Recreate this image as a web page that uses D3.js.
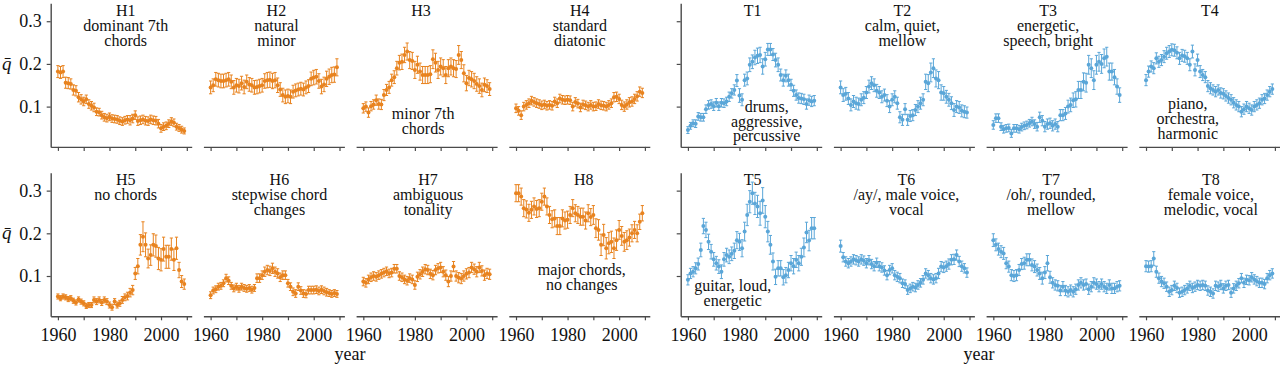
<!doctype html>
<html>
<head>
	<meta charset="utf-8">
	<script src="https://d3js.org/d3.v7.min.js"></script>
	<style>
		body { margin: 0; background-color: white; }
		text { font-family: 'Liberation Serif', 'Times New Roman', serif; fill: #111; }
	</style>
</head>
<body>
	<div id="my_dataviz"></div>
	<script>

// years on the x axis
var years = [1960,1961,1962,1963,1964,1965,1966,1967,1968,1969,
             1970,1971,1972,1973,1974,1975,1976,1977,1978,1979,
             1980,1981,1982,1983,1984,1985,1986,1987,1988,1989,
             1990,1991,1992,1993,1994,1995,1996,1997,1998,1999,
             2000,2001,2002,2003,2004,2005,2006,2007,2008,2009];
var xTicks = [1960, 1970, 1980, 1990, 2000, 2010];
var xLabels = [1960, 1980, 2000];
var yTicks = [0.1, 0.2, 0.3];

// panel titles and notes
var hTitles = [["H1","dominant 7th","chords"], ["H2","natural","minor"], ["H3"], ["H4","standard","diatonic"],
               ["H5","no chords"], ["H6","stepwise chord","changes"], ["H7","ambiguous","tonality"], ["H8"]];
var tTitles = [["T1"], ["T2","calm, quiet,","mellow"], ["T3","energetic,","speech, bright"], ["T4"],
               ["T5"], ["T6","/ay/, male voice,","vocal"], ["T7","/oh/, rounded,","mellow"], ["T8","female voice,","melodic, vocal"]];
var hNotes = [[], [], ["minor 7th","chords"], [], [], [], [], ["major chords,","no changes"]];
var tNotes = [["drums,","aggressive,","percussive"], [], [], ["piano,","orchestra,","harmonic"],
              ["guitar, loud,","energetic"], [], [], []];

// mean q values (x 1000), one per year
var H1 = [182,180,182,156,155,153,139,137,122,117, 112,117,106,102,98,88,87,80,75,73, 76,72,71,70,67,65,68,70,68,72, 80,66,68,70,67,66,70,68,67,60, 49,53,55,60,65,62,53,50,46,43];
var H2 = [145,150,164,162,160,160,162,164,158,145, 150,148,155,146,158,152,150,145,146,148, 150,160,162,163,160,162,150,140,127,123, 125,123,135,138,140,142,140,145,148,165, 168,170,160,147,152,165,170,174,175,192];
var H3 = [96,100,86,101,105,115,106,105,127,139, 145,162,169,190,203,205,221,229,209,207, 186,198,182,174,174,174,176,211,203,186, 194,190,174,190,194,190,188,221,209,178, 155,167,164,160,153,148,139,151,148,141];
var H4 = [96,90,80,100,104,108,114,111,108,106, 103,105,102,104,102,112,108,119,116,115, 116,115,100,111,107,98,105,103,100,104, 100,101,106,103,102,100,104,108,122,123, 118,104,100,105,110,112,118,124,135,132];
var H5 = [52,48,52,50,46,48,42,38,45,40, 36,30,32,32,44,40,44,38,44,40, 32,27,40,32,36,44,50,53,61,67, 106,123,173,192,173,141,149,173,170,141, 138,163,145,145,163,138,165,114,87,81];
var H6 = [55,66,69,75,77,83,95,89,77,71, 75,70,75,72,70,72,68,72,95,95, 102,110,114,112,118,110,106,97,102,102, 83,75,63,59,75,66,59,58,67,67, 67,68,65,68,65,62,60,58,60,58];
var H7 = [87,84,92,97,100,98,102,105,108,111, 106,108,117,117,100,97,92,89,95,92, 79,98,104,110,116,114,105,102,114,118, 120,110,102,87,100,122,100,96,94,100, 105,108,120,116,110,120,112,102,106,104];
var H8 = [294,294,286,259,256,248,255,263,257,259, 274,286,263,243,233,235,217,217,235,230, 232,243,259,247,243,239,239,230,247,238, 243,212,208,173,196,165,177,180,165,184, 208,194,180,184,190,200,208,200,227,247];
var T1 = [45,55,61,60,77,75,75,94,104,106, 101,109,101,109,108,112,123,131,139,161, 126,116,162,166,198,205,215,219,221,194, 211,234,234,222,209,198,174,162,172,162, 151,137,127,120,119,117,106,115,112,114];
var T2 = [145,127,130,119,104,112,108,106,116,121, 133,147,155,150,137,133,123,127,114,100, 116,123,108,75,69,94,69,78,80,92, 100,108,116,158,155,180,190,166,162,133, 131,123,116,108,92,100,98,90,88,86];
var T3 = [57,73,73,53,47,49,50,37,49,49, 47,52,55,57,61,65,59,53,75,67, 53,59,61,55,59,53,80,80,84,100, 104,115,117,139,139,158,156,198,190,162, 198,205,200,213,217,182,182,169,147,127];
var T4 = [162,182,194,190,213,205,209,217,225,229, 233,232,226,213,220,218,213,198,229,186, 209,182,174,169,148,143,139,135,139,132, 130,125,120,116,109,104,100,88,94,100, 96,92,100,104,108,116,119,127,135,141];
var T5 = [91,106,110,118,128,161,217,208,180,157, 139,130,122,110,139,149,145,152,159,184, 180,165,204,243,274,294,270,263,247,277, 239,204,173,134,98,118,118,97,102,114, 130,123,138,130,145,167,202,183,212,212];
var T6 = [170,144,134,130,134,139,137,134,139,136, 130,137,128,123,131,123,120,113,102,114, 118,102,98,95,83,81,67,71,75,73, 79,84,91,106,102,95,92,95,106,122, 120,123,128,138,139,149,134,123,118,108];
var T7 = [184,173,163,157,153,130,122,102,100,102, 114,128,130,138,138,126,122,114,106,95, 108,130,97,84,79,77,66,75,66,63, 67,63,69,79,84,79,81,69,75,84, 81,75,81,75,71,79,71,71,75,77];
var T8 = [123,122,123,141,110,95,87,83,75,63, 67,77,72,61,63,67,71,77,72,75, 79,77,79,77,66,63,59,77,75,79, 71,77,79,61,71,77,83,95,84,91, 90,97,92,88,84,84,81,95,102,106];

// half-width of the error bars (x 1000)
var H1err = [14,14,14,13,13,12,12,12,11,11, 10,10,10,10,10,9,9,9,9,9, 9,9,9,9,9,9,9,9,11,10, 10,10,10,10,10,10,10,10,10,10, 9,9,9,9,9,9,8,8,8,7];
var H2err = [15,15,16,16,16,16,16,16,16,16, 16,16,16,16,16,16,16,16,16,16, 16,17,18,18,18,18,17,16,16,16, 16,16,15,15,15,15,15,15,15,16, 17,17,17,17,17,18,18,18,18,20];
var H3err = [11,11,11,11,11,12,12,12,13,13, 14,14,15,16,17,18,18,20,20,20, 20,20,20,20,20,20,20,22,22,20, 20,20,20,20,20,20,20,22,20,20, 18,18,18,18,17,17,16,16,15,15];
var H4err = [10,10,10,10,10,10,10,10,10,10, 10,10,10,10,10,10,10,10,10,10, 10,10,10,10,10,10,10,10,10,10, 10,10,10,10,10,10,10,10,11,11, 11,11,11,11,11,11,11,11,11,11];
var H5err = [6,6,6,6,6,6,6,6,6,6, 6,6,6,6,7,7,7,7,7,7, 7,7,7,7,7,8,8,9,10,11, 14,18,24,35,28,22,24,26,26,26, 26,28,27,27,26,25,26,18,14,12];
var H6err = [8,8,8,8,8,8,9,9,8,8, 8,8,8,8,8,8,8,8,10,10, 10,11,11,11,12,11,11,10,10,10, 9,9,9,9,9,9,9,9,9,9, 9,9,9,9,9,9,8,8,8,8];
var H7err = [10,10,10,10,10,10,10,10,10,10, 10,10,10,10,10,10,10,10,10,10, 10,11,11,11,11,11,11,11,11,11, 12,12,12,12,12,12,12,12,12,12, 12,12,12,12,12,12,12,12,12,12];
var H8err = [20,20,20,20,20,20,20,20,20,20, 20,20,20,20,20,20,20,20,20,20, 20,20,20,20,20,20,20,20,20,20, 22,22,24,25,25,25,25,25,24,24, 22,22,22,22,20,20,20,20,18,18];
var T1err = [8,8,8,9,9,9,9,10,10,10, 10,10,10,10,10,10,11,11,12,14, 16,14,14,15,16,16,17,18,18,18, 16,14,14,14,16,16,14,14,14,14, 13,13,12,12,12,12,12,12,12,12];
var T2err = [15,15,15,14,14,14,14,14,14,14, 14,15,15,15,15,14,14,14,14,14, 14,14,14,13,13,13,13,13,13,13, 14,14,14,18,20,22,22,20,20,18, 16,15,15,15,15,14,14,14,14,13];
var T3err = [10,10,10,9,9,9,9,9,9,9, 9,9,9,9,9,10,10,10,12,12, 12,12,12,12,12,12,13,13,14,15, 16,17,18,20,20,21,22,22,22,22, 22,22,22,22,22,20,20,18,18,17];
var T4err = [13,13,13,13,13,13,13,14,14,14, 14,14,14,14,14,14,14,14,15,14, 14,14,13,13,13,13,12,12,12,12, 12,12,12,12,12,12,12,12,12,12, 12,12,12,12,12,12,12,12,12,12];
var T5err = [12,12,12,13,14,16,18,18,18,17, 16,16,16,16,16,16,16,16,18,20, 20,20,22,25,26,26,26,26,28,30, 26,24,22,20,18,18,18,18,18,18, 18,18,18,18,20,22,24,24,25,25];
var T6err = [14,11,11,11,11,11,11,11,11,11, 11,11,11,11,11,11,11,11,11,11, 11,11,11,11,10,10,10,10,10,10, 10,10,10,11,11,11,11,11,12,12, 12,12,12,12,12,12,12,12,11,11];
var T7err = [15,14,14,14,14,13,13,13,13,13, 13,13,14,14,14,14,14,14,14,14, 14,18,14,12,12,12,12,12,12,12, 12,12,12,12,12,12,12,12,12,12, 12,12,12,12,12,12,12,12,12,12];
var T8err = [13,13,13,16,13,12,12,12,11,11, 11,11,11,11,11,11,11,11,11,11, 11,11,11,11,11,11,11,11,11,11, 11,11,11,11,11,11,11,11,11,11, 11,11,11,11,11,11,11,11,11,11];

var hSeries = [H1, H2, H3, H4, H5, H6, H7, H8];
var hErrors = [H1err, H2err, H3err, H4err, H5err, H6err, H7err, H8err];
var tSeries = [T1, T2, T3, T4, T5, T6, T7, T8];
var tErrors = [T1err, T2err, T3err, T4err, T5err, T6err, T7err, T8err];

// layout
var W = 1280, H = 367;
var panelW = 141, step = 152.7;
var groupX = [50.7, 680.7];
var rowZero = [149.3, 318.7];      // pixel of q = 0 in each row
var rowOff = [0, 169.4];
var colors = ["#e8831f", "#5aa6d8"];
var axisColor = "#4a4a4a";
var serif = "'Liberation Serif', 'Times New Roman', serif";
var titleDx = [[75, 73, 65, 71, 75, 76, 72, 75], [72, 69, 62, 71, 72, 73, 65, 72]];
// note placement: [dx, first baseline (row relative), line gap]
var hNotePos = [null, null, [67, 119, 15], null, null, null, null, [73, 105.5, 15.5]];
var tNotePos = [[86, 112, 14.5], null, null, [49, 109, 14.8], [52, 122, 14.5], null, null, null];

var svg = d3.select("#my_dataviz")
  .append("svg")
    .attr("width", W)
    .attr("height", H)
    .style("display", "block");

var x = d3.scaleLinear()
    .domain([1957.2, 2011.9])
    .range([0, panelW]);

function drawPanel(group, idx, values, errs, titles, notes, notePos) {
  var col = idx % 4, row = Math.floor(idx / 4);
  var x0 = groupX[group] + col * step;
  var zero = rowZero[row];
  var y = d3.scaleLinear()
      .domain([0.0056, 0.342])
      .range([zero - 2.4, zero - 146]);
  var color = colors[group];

  var g = svg.append("g")
      .attr("transform", "translate(" + x0 + ",0)");

  // bottom axis
  var xa = g.append("g")
      .attr("transform", "translate(0," + y(0.0056) + ")")
      .call(d3.axisBottom(x)
        .tickValues(xTicks)
        .tickSize(4)
        .tickSizeOuter(0)
        .tickPadding(8)
        .tickFormat(function(d) { return (row == 1 && xLabels.indexOf(d) >= 0) ? d : ""; }));
  styleAxis(xa);

  // left axis only on the first column
  if (col == 0) {
    var ya = g.append("g")
        .call(d3.axisLeft(y)
          .tickValues(yTicks)
          .tickSize(4)
          .tickSizeOuter(0)
          .tickPadding(5)
          .tickFormat(group == 0 ? d3.format(".1f") : function() { return ""; }));
    styleAxis(ya);
    if (group == 0) {
      svg.append("text")
          .attr("x", 2)
          .attr("y", y(0.2) + 6)
          .style("font-family", serif)
          .style("font-size", "19px")
          .style("font-style", "italic")
          .text("q\u0304");
    }
  }

  // error bars and points
  var pts = g.append("g").selectAll("g")
      .data(years.map(function(yr, i) { return {yr: yr, v: values[i] / 1000, e: errs[i] / 1000}; }))
      .enter().append("g")
      .attr("stroke", color)
      .attr("stroke-width", 1);
  pts.append("line")
      .attr("x1", function(d) { return x(d.yr); })
      .attr("x2", function(d) { return x(d.yr); })
      .attr("y1", function(d) { return y(d.v - d.e); })
      .attr("y2", function(d) { return y(d.v + d.e); });
  pts.append("line")
      .attr("x1", function(d) { return x(d.yr) - 1.6; })
      .attr("x2", function(d) { return x(d.yr) + 1.6; })
      .attr("y1", function(d) { return y(d.v + d.e); })
      .attr("y2", function(d) { return y(d.v + d.e); });
  pts.append("line")
      .attr("x1", function(d) { return x(d.yr) - 1.6; })
      .attr("x2", function(d) { return x(d.yr) + 1.6; })
      .attr("y1", function(d) { return y(d.v - d.e); })
      .attr("y2", function(d) { return y(d.v - d.e); });
  pts.append("circle")
      .attr("cx", function(d) { return x(d.yr); })
      .attr("cy", function(d) { return y(d.v); })
      .attr("r", 2)
      .attr("stroke", "none")
      .attr("fill", color);

  // title lines
  titles.forEach(function(t, i) {
    g.append("text")
        .attr("x", titleDx[group][idx])
        .attr("y", rowOff[row] + 15.5 + i * 15)
        .attr("text-anchor", "middle")
        .style("font-family", serif)
        .style("font-size", "16px")
        .text(t);
  });

  // note inside the panel
  if (notePos) {
    notes.forEach(function(t, i) {
      g.append("text")
          .attr("x", notePos[0])
          .attr("y", rowOff[row] + notePos[1] + i * notePos[2])
          .attr("text-anchor", "middle")
          .style("font-family", serif)
          .style("font-size", "16px")
          .text(t);
    });
  }
}

function styleAxis(a) {
  a.select(".domain").attr("stroke", axisColor).attr("stroke-width", 1.4);
  a.selectAll(".tick line").attr("stroke", axisColor).attr("stroke-width", 1.2);
  a.selectAll(".tick text")
      .attr("fill", "#111")
      .style("font-family", serif)
      .style("font-size", "18px");
}

for (var i = 0; i < 8; i++) {
  drawPanel(0, i, hSeries[i], hErrors[i], hTitles[i], hNotes[i], hNotePos[i]);
  drawPanel(1, i, tSeries[i], tErrors[i], tTitles[i], tNotes[i], tNotePos[i]);
}

// x axis titles
svg.append("text").attr("x", 350).attr("y", 360).attr("text-anchor", "middle")
    .style("font-family", serif).style("font-size", "18px").text("year");
svg.append("text").attr("x", 979).attr("y", 360).attr("text-anchor", "middle")
    .style("font-family", serif).style("font-size", "18px").text("year");

	</script>
</body>
</html>
